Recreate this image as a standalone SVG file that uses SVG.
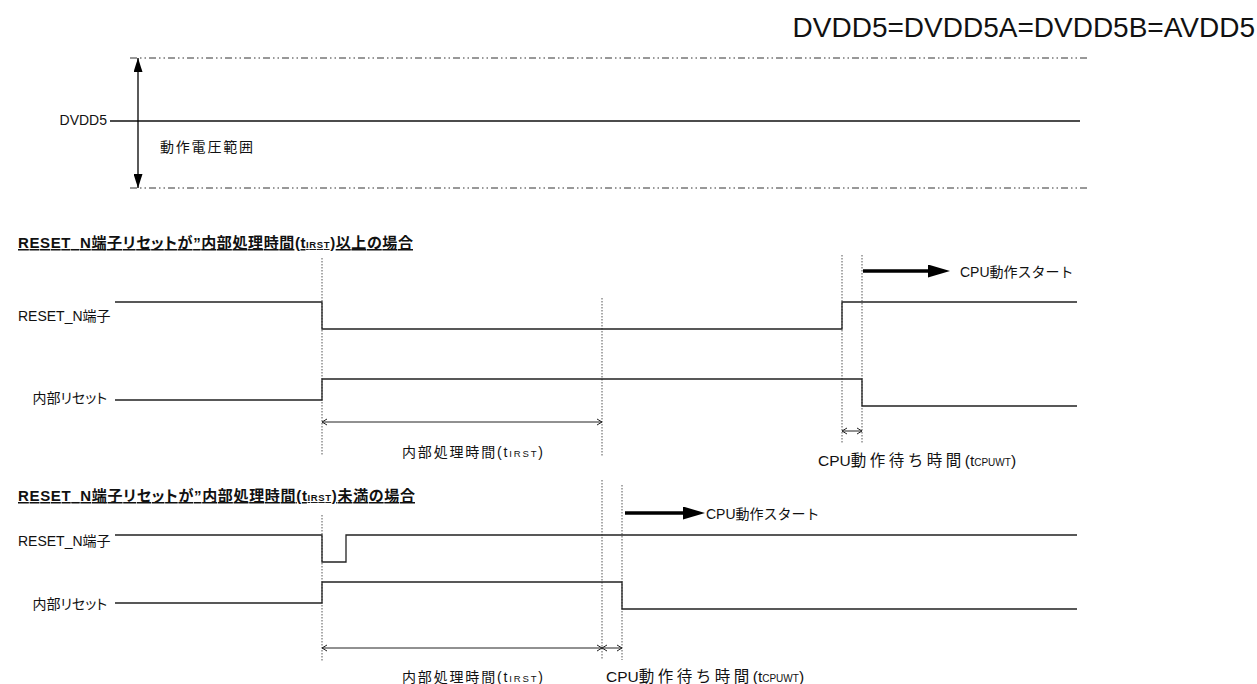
<svg xmlns="http://www.w3.org/2000/svg" width="1257" height="684" viewBox="0 0 1257 684">
<style>
.t{font-family:"Liberation Sans","Noto Sans CJK JP",sans-serif;font-size:14px;fill:#111;}
.p{font-feature-settings:"palt";}
.h{font-weight:bold;font-size:15px;text-decoration:underline;font-feature-settings:"palt";}
.s{font-size:9.5px;}
.big{font-size:28px;}
.w{font-size:15.5px;}
.ws{font-size:10px;}
.sp{letter-spacing:3.5px;}
.sig{fill:none;stroke:#222;stroke-width:1.3;}
.dot{stroke:#555;stroke-width:1;stroke-dasharray:1.5 1.5;fill:none;}
.dd{stroke:#333;stroke-width:1;stroke-dasharray:7 3 1.5 3 1.5 3;fill:none;}
.dim{stroke:#222;stroke-width:1;fill:none;marker-start:url(#ch);marker-end:url(#ch);}
.thick{stroke:#000;stroke-width:3.5;fill:none;marker-end:url(#ta);}
</style>
<defs>
<marker id="ch" viewBox="0 0 8 8" refX="7" refY="4" markerWidth="8" markerHeight="8" markerUnits="userSpaceOnUse" orient="auto-start-reverse"><path d="M2,1 L7,4 L2,7" fill="none" stroke="#222" stroke-width="1"/></marker>
<marker id="fa" viewBox="0 0 14 9" refX="14" refY="4.5" markerWidth="14" markerHeight="9" markerUnits="userSpaceOnUse" orient="auto-start-reverse"><path d="M0,0 L14,4.5 L0,9 z" fill="#000"/></marker>
<marker id="ta" viewBox="0 0 22 13" refX="1" refY="6.5" markerWidth="22" markerHeight="13" markerUnits="userSpaceOnUse" orient="auto"><path d="M0,0 L22,6.5 L0,13 z" fill="#000"/></marker>
</defs>
<rect width="1257" height="684" fill="#fff"/>

<g id="supply-title"><text class="t big" x="1255" y="37" text-anchor="end">DVDD5=DVDD5A=DVDD5B=AVDD5</text></g>

<g id="supply">
<line class="dd" x1="130" y1="58" x2="1088" y2="58"/>
<line class="dd" x1="130" y1="188" x2="1088" y2="188"/>
<line x1="110" y1="121" x2="1080" y2="121" stroke="#111" stroke-width="1.3"/>
<text class="t" x="107" y="125" text-anchor="end" font-size="13.5">DVDD5</text>
<text class="t" x="160" y="152" font-size="14.5" letter-spacing="1.8">動作電圧範囲</text>
</g>

<g id="sec1-title"><text class="t h" x="18" y="248" textLength="395" lengthAdjust="spacing">RESET_N端子リセットが”内部処理時間(t<tspan class="s">IRST</tspan>)以上の場合</text></g>

<g id="sec1-guides">
<line class="dot" x1="322" y1="258" x2="322" y2="455"/>
<line class="dot" x1="602" y1="298" x2="602" y2="457"/>
<line class="dot" x1="842" y1="255" x2="842" y2="443"/>
<line class="dot" x1="862" y1="255" x2="862" y2="443"/>
</g>

<g id="sec1-reset">
<text class="t" x="18" y="321">RESET_N端子</text>
<path class="sig" d="M115,302 H322 V329 H842 V302 H1077"/>
</g>
<g id="sec1-internal">
<text class="t p" x="107" y="403" text-anchor="end">内部リセット</text>
<path class="sig" d="M115,400 H322 V379 H862 V406 H1077"/>
</g>
<g id="sec1-labels">
<text class="t" x="402" y="457" textLength="141" lengthAdjust="spacing">内部処理時間(t<tspan class="s">IRST</tspan>)</text>
<text class="t w" x="818" y="466">CPU<tspan class="sp">動作待ち時間</tspan>(t<tspan class="ws">CPUWT</tspan>)</text>
<text class="t" x="960" y="277">CPU動作スタート</text>
</g>

<g id="sec2-title"><text class="t h" x="18" y="501" textLength="397" lengthAdjust="spacing">RESET_N端子リセットが”内部処理時間(t<tspan class="s">IRST</tspan>)未満の場合</text></g>

<g id="sec2-guides">
<line class="dot" x1="322" y1="515" x2="322" y2="662"/>
<line class="dot" x1="602" y1="480" x2="602" y2="660"/>
<line class="dot" x1="622" y1="485" x2="622" y2="660"/>
</g>
<g id="sec2-reset">
<text class="t" x="18" y="546">RESET_N端子</text>
<path class="sig" d="M115,535 H322 V562 H346 V535 H1077"/>
</g>
<g id="sec2-internal">
<text class="t p" x="107" y="609" text-anchor="end">内部リセット</text>
<path class="sig" d="M115,603 H322 V582 H622 V609 H1077"/>
</g>
<g id="sec2-labels">
<text class="t" x="402" y="682" textLength="141" lengthAdjust="spacing">内部処理時間(t<tspan class="s">IRST</tspan>)</text>
<text class="t w" x="606" y="682">CPU<tspan class="sp">動作待ち時間</tspan>(t<tspan class="ws">CPUWT</tspan>)</text>
<text class="t" x="706" y="519">CPU動作スタート</text>
</g>

<g id="connectors">
<line x1="138" y1="58" x2="138" y2="188" stroke="#000" stroke-width="1.3" marker-start="url(#fa)" marker-end="url(#fa)"/>
<line class="dim" x1="322" y1="422" x2="602" y2="422"/>
<line class="dim" x1="842" y1="431" x2="862" y2="431"/>
<line class="dim" x1="322" y1="648" x2="602" y2="648"/>
<line class="dim" x1="602" y1="648" x2="622" y2="648"/>
<line class="thick" x1="863" y1="271" x2="929" y2="271"/>
<line class="thick" x1="625" y1="513" x2="684" y2="513"/>
</g>
</svg>
